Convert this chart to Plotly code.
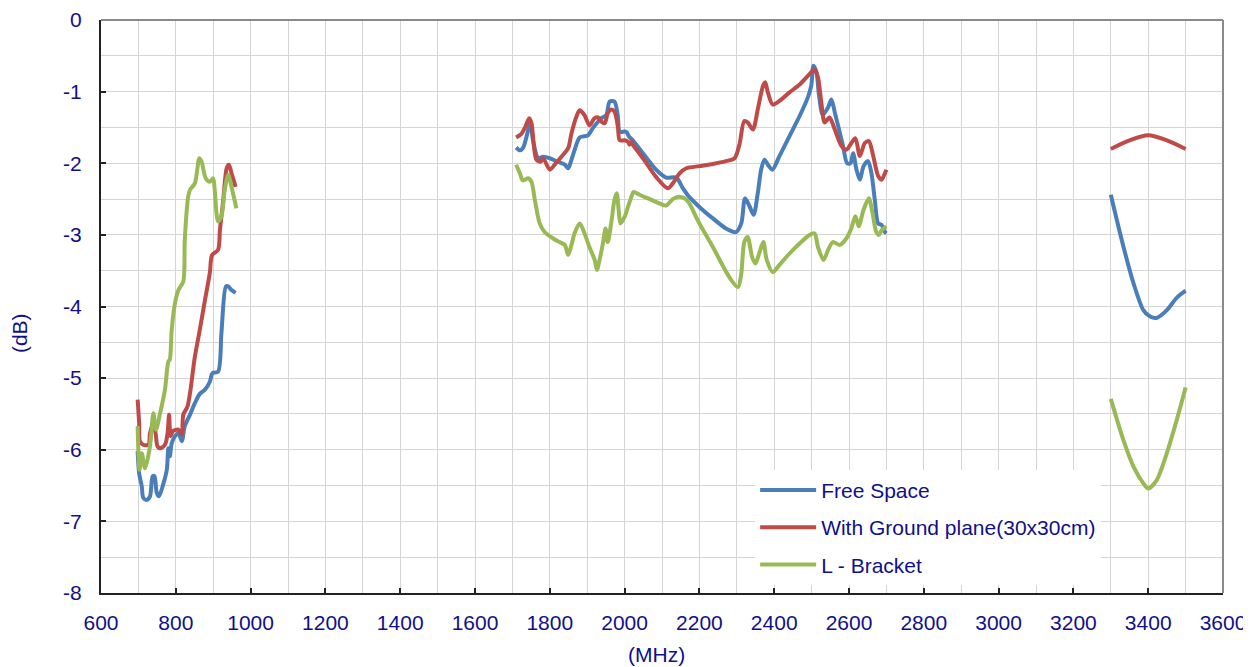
import plotly.graph_objects as go

# ---------------- data ----------------
# Free Space
fs_low_f = [698, 702, 709, 713, 722, 731, 738, 743, 749, 755, 767, 776, 780, 784, 789, 798, 807, 816, 824, 838, 851, 864, 878, 891, 898, 913, 922, 934, 940, 949, 960]
fs_low_db = [-6.02, -6.33, -6.51, -6.67, -6.70, -6.65, -6.37, -6.37, -6.60, -6.65, -6.47, -6.28, -5.98, -6.09, -5.91, -5.81, -5.77, -5.88, -5.67, -5.51, -5.35, -5.22, -5.16, -5.05, -4.93, -4.91, -4.37, -3.72, -3.72, -3.77, -3.81]
fs_mid_f = [1710, 1720, 1728, 1742, 1748, 1755, 1769, 1782, 1800, 1822, 1840, 1849, 1858, 1866, 1880, 1902, 1915, 1929, 1938, 1951, 1960, 1973, 1982, 1987, 2004, 2012, 2022, 2049, 2084, 2111, 2138, 2156, 2173, 2200,
            2236, 2271, 2298, 2312, 2322, 2334, 2345, 2356, 2365, 2374, 2383, 2395, 2414, 2441, 2468, 2490, 2499, 2505, 2513, 2520, 2530, 2544, 2553, 2562, 2571, 2584, 2595, 2604, 2611, 2620, 2629, 2639, 2651, 2660, 2669, 2678, 2687, 2696, 2700]
fs_mid_db = [-1.78, -1.82, -1.79, -1.54, -1.42, -1.68, -1.93, -1.91, -1.93, -1.98, -2.02, -2.07, -1.95, -1.82, -1.64, -1.61, -1.51, -1.42, -1.37, -1.33, -1.14, -1.14, -1.35, -1.56, -1.56, -1.63, -1.68, -1.86, -2.09, -2.20, -2.20, -2.35, -2.47, -2.61,
             -2.77, -2.91, -2.96, -2.84, -2.49, -2.60, -2.72, -2.42, -2.09, -1.95, -2.02, -2.09, -1.90, -1.62, -1.34, -1.08, -0.92, -0.64, -0.73, -1.06, -1.32, -1.22, -1.11, -1.29, -1.48, -1.76, -2.00, -2.00, -1.86, -2.09, -2.23, -2.04, -1.97, -2.14, -2.51, -2.84, -2.86, -2.96, -2.98]
fs_high_f = [3300, 3334, 3361, 3387, 3405, 3422, 3450, 3476, 3500]
fs_high_db = [-2.44, -3.17, -3.68, -4.05, -4.14, -4.16, -4.05, -3.88, -3.78]

# With Ground plane (30x30cm)
gp_low_f = [698, 702, 704, 713, 727, 731, 740, 746, 751, 758, 771, 778, 782, 786, 792, 807, 816, 820, 831, 838, 851, 864, 878, 891, 897, 913, 918, 927, 936, 942, 949, 960]
gp_low_db = [-5.30, -5.63, -5.88, -5.93, -5.93, -5.77, -5.63, -5.77, -5.95, -5.98, -5.93, -5.77, -5.51, -5.81, -5.74, -5.72, -5.79, -5.51, -5.40, -5.21, -4.70, -4.33, -3.91, -3.53, -3.28, -3.21, -2.93, -2.51, -2.07, -2.02, -2.14, -2.33]
gp_mid_f = [1710, 1724, 1733, 1745, 1751, 1764, 1775, 1782, 1800, 1813, 1831, 1849, 1858, 1871, 1880, 1893, 1906, 1920, 1929, 1938, 1947, 1955, 1964, 1973, 1982, 1987, 2000, 2009, 2013, 2018, 2022, 2049, 2084, 2116, 2129, 2147, 2165, 2200,
            2236, 2271, 2294, 2307, 2320, 2329, 2343, 2356, 2370, 2376, 2383, 2396, 2414, 2441, 2468, 2490, 2508, 2517, 2526, 2535, 2548, 2562, 2580, 2593, 2606, 2617, 2629, 2642, 2653, 2664, 2678, 2687, 2696, 2700]
gp_mid_db = [-1.64, -1.59, -1.51, -1.37, -1.44, -1.95, -1.98, -1.93, -2.09, -2.02, -1.91, -1.79, -1.58, -1.35, -1.26, -1.33, -1.47, -1.37, -1.36, -1.42, -1.44, -1.30, -1.25, -1.28, -1.49, -1.68, -1.68, -1.70, -1.74, -1.70, -1.74, -1.93, -2.19, -2.35, -2.28, -2.14, -2.07, -2.04,
             -2.01, -1.97, -1.93, -1.74, -1.41, -1.43, -1.53, -1.25, -0.92, -0.87, -1.01, -1.18, -1.13, -1.01, -0.90, -0.78, -0.69, -0.80, -1.15, -1.43, -1.36, -1.53, -1.76, -1.81, -1.72, -1.65, -1.90, -1.72, -1.69, -1.88, -2.18, -2.23, -2.14, -2.09]
gp_high_f = [3300, 3350, 3400, 3450, 3500]
gp_high_db = [-1.80, -1.68, -1.61, -1.68, -1.80]

# L - Bracket
lb_low_f = [698, 703, 709, 718, 731, 740, 747, 758, 771, 780, 784, 789, 798, 807, 820, 824, 833, 838, 851, 863, 869, 880, 891, 900, 904, 913, 922, 931, 940, 949, 962]
lb_low_db = [-5.67, -6.28, -6.05, -6.26, -5.95, -5.49, -5.72, -5.49, -5.16, -4.77, -4.74, -4.33, -3.95, -3.77, -3.65, -3.07, -2.47, -2.37, -2.28, -1.93, -1.98, -2.21, -2.26, -2.21, -2.37, -2.81, -2.74, -2.37, -2.16, -2.33, -2.63]
lb_mid_f = [1710, 1720, 1728, 1742, 1751, 1760, 1773, 1786, 1809, 1826, 1840, 1849, 1858, 1866, 1880, 1893, 1906, 1920, 1926, 1933, 1942, 1949, 1955, 1964, 1973, 1979, 1984, 1989, 2000, 2009, 2018, 2024, 2040, 2067, 2093, 2111, 2129, 2142, 2160, 2173, 2191, 2200,
            2236, 2280, 2303, 2312, 2320, 2329, 2341, 2350, 2361, 2371, 2380, 2396, 2414, 2441, 2468, 2495, 2508, 2517, 2532, 2544, 2557, 2575, 2593, 2606, 2617, 2626, 2639, 2653, 2663, 2673, 2680, 2688, 2700]
lb_mid_db = [-2.02, -2.14, -2.24, -2.21, -2.26, -2.51, -2.84, -2.96, -3.05, -3.10, -3.14, -3.28, -3.14, -2.98, -2.84, -2.98, -3.17, -3.35, -3.49, -3.35, -3.12, -2.91, -3.10, -2.84, -2.51, -2.42, -2.65, -2.84, -2.75, -2.61, -2.47, -2.40, -2.44, -2.50, -2.56, -2.59, -2.50, -2.47, -2.49, -2.56, -2.75, -2.84,
             -3.17, -3.59, -3.73, -3.54, -3.10, -3.03, -3.31, -3.40, -3.24, -3.10, -3.35, -3.52, -3.42, -3.26, -3.12, -3.00, -2.98, -3.17, -3.35, -3.21, -3.10, -3.14, -3.05, -2.91, -2.74, -2.88, -2.65, -2.49, -2.70, -2.96, -3.00, -2.93, -2.88]
lb_high_f = [3300, 3334, 3361, 3387, 3400, 3422, 3449, 3476, 3500]
lb_high_db = [-5.29, -5.87, -6.24, -6.47, -6.54, -6.43, -6.06, -5.59, -5.13]

series_names = ["Free Space", "With Ground plane(30x30cm)", "L - Bracket"]
x_tick_vals = list(range(600, 3601, 200))
y_tick_vals = list(range(-8, 1))

# ---------------- figure ----------------
TEXT = "#10108a"
FONT = "Liberation Sans, Arial, sans-serif"
FS = 21


def join(*bands):
    xs, ys = [], []
    for i, (f, d) in enumerate(bands):
        if i:
            xs.append(None)
            ys.append(None)
        xs += f
        ys += d
    return xs, ys


colors = ["#4a7ebb", "#be4b48", "#98b954"]
data = [
    join((fs_low_f, fs_low_db), (fs_mid_f, fs_mid_db), (fs_high_f, fs_high_db)),
    join((gp_low_f, gp_low_db), (gp_mid_f, gp_mid_db), (gp_high_f, gp_high_db)),
    join((lb_low_f, lb_low_db), (lb_mid_f, lb_mid_db), (lb_high_f, lb_high_db)),
]

fig = go.Figure()
for name, c, (xs, ys) in zip(series_names, colors, data):
    fig.add_trace(go.Scatter(
        x=xs, y=ys, name=name, mode="lines", connectgaps=False,
        line=dict(color=c, width=4, shape="spline", smoothing=0.8),
        legendgroup=name,
    ))

grid = "#d4d4d4"
# the page body adds an 8px offset, so margins are trimmed accordingly
fig.update_layout(
    width=1251, height=667,
    margin=dict(l=93, r=36, t=12, b=82, autoexpand=False),
    paper_bgcolor="white", plot_bgcolor="white",
    font=dict(family=FONT, size=FS, color=TEXT),
    showlegend=True,
    legend=dict(
        x=0.583, y=0.215, xanchor="left", yanchor="top",
        bgcolor="white", borderwidth=0,
        font=dict(size=FS, color=TEXT),
        tracegroupgap=7, itemwidth=56,
    ),
    xaxis=dict(
        range=[600, 3600], tickvals=x_tick_vals, ticktext=[str(v) for v in x_tick_vals],
        showgrid=True, gridcolor=grid, gridwidth=1.3,
        minor=dict(dtick=100, tick0=600, showgrid=True, gridcolor=grid, gridwidth=1.3),
        showline=True, linecolor="#222", linewidth=2,
        ticks="inside", ticklen=5, tickcolor="#222", tickwidth=1.5,
        zeroline=False, ticklabelstandoff=10, automargin=False,
        tickfont=dict(size=FS, color=TEXT),
    ),
    yaxis=dict(
        range=[-8, 0], tickvals=y_tick_vals, ticktext=[str(v) for v in y_tick_vals],
        showgrid=True, gridcolor=grid, gridwidth=1.3,
        minor=dict(dtick=0.5, tick0=0, showgrid=True, gridcolor=grid, gridwidth=1.3),
        showline=True, linecolor="#222", linewidth=2,
        ticks="inside", ticklen=5, tickcolor="#222", tickwidth=1.5,
        zeroline=False, ticklabelstandoff=13, automargin=False,
        tickfont=dict(size=FS, color=TEXT),
    ),
    shapes=[
        dict(type="line", xref="x domain", yref="y domain", x0=0, x1=1, y0=1, y1=1,
             line=dict(color="#8a8a8a", width=2), layer="above"),
        dict(type="line", xref="x domain", yref="y domain", x0=1, x1=1, y0=0, y1=1,
             line=dict(color="#8a8a8a", width=2), layer="above"),
    ],
    annotations=[
        dict(text="(MHz)", xref="paper", yref="paper", x=0.4947, y=-0.108,
             xanchor="center", yanchor="middle", showarrow=False,
             font=dict(size=FS, color=TEXT)),
        dict(text="(dB)", xref="paper", yref="paper", x=-0.072, y=0.454,
             xanchor="center", yanchor="middle", showarrow=False, textangle=-90,
             font=dict(size=FS, color=TEXT)),
    ],
)

fig.write_html("out.html")
